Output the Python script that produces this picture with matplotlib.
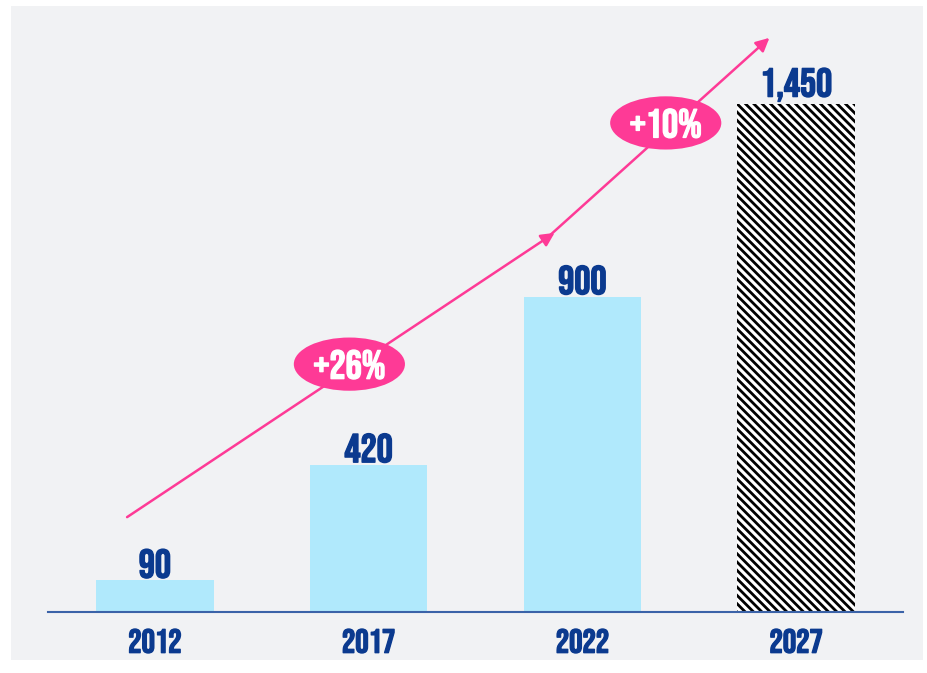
import matplotlib.pyplot as plt
import matplotlib.patheffects as pe
from matplotlib.patches import Rectangle, Ellipse

plt.rcParams['font.family'] = ['Bebas Neue', 'Oswald', 'DejaVu Sans']
plt.rcParams['hatch.linewidth'] = 2.0

# 数据
years = ['2012', '2017', '2022', '2027']
values = [90, 420, 900, 1450]
value_labels = ['90', '420', '900', '1,450']

# 增长箭头 (x, y) 以及百分比标签
arrow_pts = [[(-0.13, 271), (1.87, 1083)],
             [(1.85, 1077), (2.875, 1640)]]
growth_labels = ['+26%', '+10%']
growth_pos = [(0.91, 708), (2.39, 1397)]

navy = '#0b3a8f'
pink = '#fe3a96'
light_blue = '#b0e9fc'

# 加粗字体
bold_navy = [pe.withStroke(linewidth=1.0, foreground=navy)]
bold_white = [pe.withStroke(linewidth=1.0, foreground='white')]

fig = plt.figure(figsize=(9.27, 6.73), dpi=100)
fig.patch.set_facecolor('white')
# 灰色背景板
fig.patches.append(Rectangle((11 / 927, 13 / 673), 912 / 927, 654 / 673,
                             transform=fig.transFigure, facecolor='#f1f2f4',
                             edgecolor='none', zorder=-10))

ax = fig.add_axes([48 / 927, 61 / 673, 855 / 927, 592 / 673])
ax.set_facecolor('none')
ax.set_zorder(1)

x = range(len(years))
ax.bar(x[:3], values[:3], width=0.55, color=light_blue, zorder=2)
ax.bar(x[3], values[3], width=0.55, facecolor='white', edgecolor='black',
       linewidth=0, hatch='\\\\\\\\', zorder=2)

for i, (v, lab) in enumerate(zip(values, value_labels)):
    ax.annotate(lab, (i, v), xytext=(0, 2), textcoords='offset points',
                ha='center', va='bottom', fontsize=29, color=navy,
                path_effects=bold_navy)

for (p0, p1) in arrow_pts:
    ax.annotate('', xy=p1, xytext=p0,
                arrowprops=dict(arrowstyle='-|>', color=pink, lw=1.8,
                                mutation_scale=20, shrinkA=0, shrinkB=0),
                zorder=3)

for lab, (gx, gy) in zip(growth_labels, growth_pos):
    ax.add_patch(Ellipse((gx, gy), 0.52, 152, facecolor=pink,
                         edgecolor='none', zorder=4))
    ax.text(gx, gy, lab, ha='center', va='center', fontsize=29,
            color='white', zorder=5, path_effects=bold_white)

ax.set_xlim(-0.5, 3.5)
ax.set_ylim(0, 1691)
ax.set_xticks(list(x))
ax.set_xticklabels(years, fontsize=24, color=navy)
for t in ax.get_xticklabels():
    t.set_path_effects(bold_navy)
ax.tick_params(axis='x', length=0, pad=12)
ax.set_yticks([])
for s in ['top', 'right', 'left']:
    ax.spines[s].set_visible(False)
ax.spines['bottom'].set_color('#3b63a8')
ax.spines['bottom'].set_linewidth(1.5)

plt.savefig('out.png', dpi=100)
